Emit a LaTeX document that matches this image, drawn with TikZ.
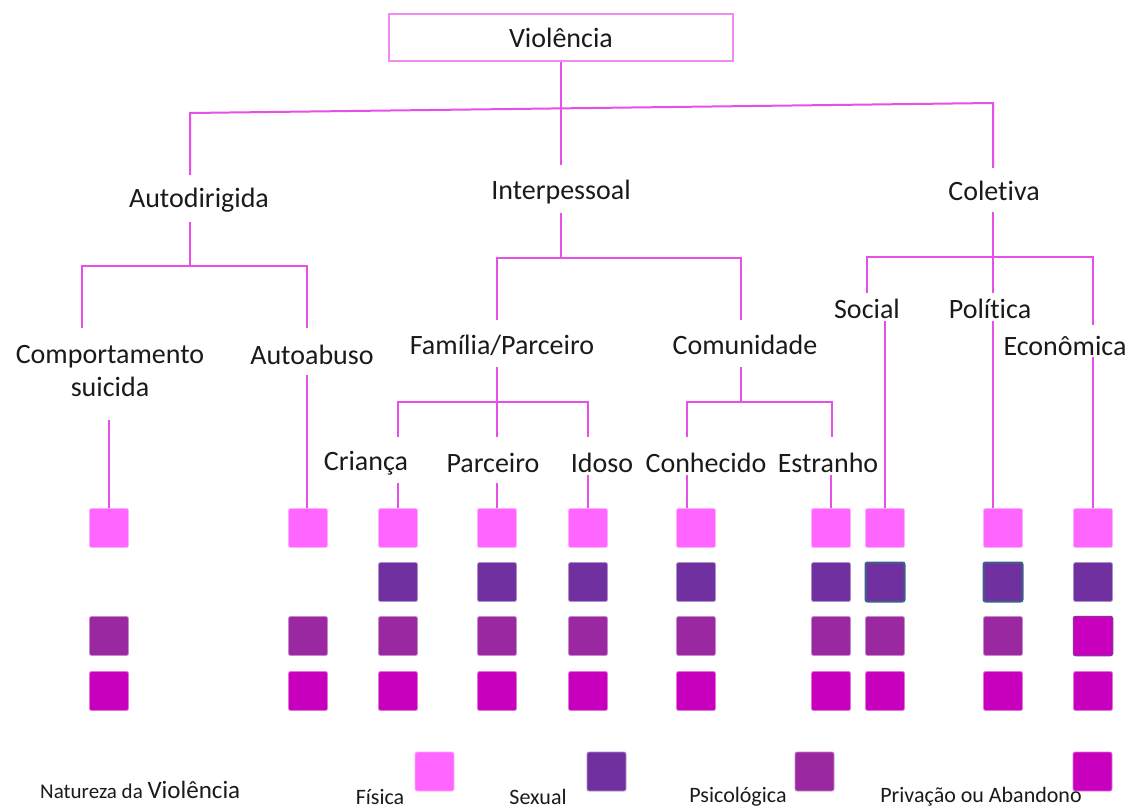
\documentclass[tikz,border=0pt]{standalone}
\usepackage{fontspec}
\setmainfont{Carlito}[Ligatures=NoCommon]
\usetikzlibrary{calc}
\definecolor{lnc}{HTML}{E650E6}
\definecolor{boxc}{HTML}{F08CF0}
\definecolor{fis}{HTML}{FF66FF}
\definecolor{sex}{HTML}{7030A0}
\definecolor{psi}{HTML}{9A28A0}
\definecolor{pri}{HTML}{C800BE}
\definecolor{edg}{HTML}{3E6088}
\definecolor{txt}{HTML}{1A1A1A}
\tikzset{
  lbl/.style={font=\fontsize{28}{33}\selectfont, text=txt, inner sep=0pt, align=center},
  leg/.style={font=\fontsize{22}{26}\selectfont, text=txt, inner sep=0pt},
  conn/.style={draw=lnc, line width=2pt},
  sq/.style={minimum size=39pt, inner sep=0pt, rounded corners=2pt, draw=#1!55!white, line width=0.8pt, fill=#1},
}
\begin{document}
\begin{tikzpicture}[x=1pt,y=-1pt]
\useasboundingbox (0,0) rectangle (1134,810);
% squares
\foreach \n/\x in {cs/109,ab/308,cr/398,pa/497,id/588,co/696,es/831,so/885,po/1003,ec/1093}{
  \node[sq=fis] (\n1) at (\x,528) {};
  \node[sq=pri] (\n4) at (\x,691) {};
}
\foreach \n/\x in {cr/398,pa/497,id/588,co/696,es/831,ec/1093}
  \node[sq=sex] (\n2) at (\x,582) {};
\node[sq=sex, draw=edg, line width=2pt] (so2) at (885,582) {};
\node[sq=sex, draw=edg, line width=2pt] (po2) at (1003,582) {};
\foreach \n/\x in {cs/109,ab/308,cr/398,pa/497,id/588,co/696,es/831,so/885,po/1003}
  \node[sq=psi] (\n3) at (\x,636) {};
\node[sq=pri, draw=psi, line width=1.5pt] (ec3) at (1093,636) {};

% text nodes
\node[lbl, draw=boxc, line width=1.5pt, minimum width=344pt, minimum height=47pt] (viol) at (561,37.5) {Violência};
\node[lbl] (autod) at (199,200) {Autodirigida};
\node[lbl] (inter) at (561,192) {Interpessoal};
\node[lbl] (colet) at (994,191) {Coletiva};
\node[lbl] (comp) at (110,371) {Comportamento\\suicida};
\node[lbl] (autoab) at (312,355) {Autoabuso};
\node[lbl] (fam) at (502,345) {Família/Parceiro};
\node[lbl] (comun) at (745,345) {Comunidade};
\node[lbl] (crian) at (366,463) {Criança};
\node[lbl] (parc) at (493,463) {Parceiro};
\node[lbl] (idoso) at (602,463) {Idoso};
\node[lbl] (conh) at (706,463) {Conhecido};
\node[lbl] (estr) at (828,463) {Estranho};
\node[lbl] (soc) at (867,309) {Social};
\node[lbl] (pol) at (990,309) {Política};
\node[lbl] (econ) at (1065,346) {Econômica};

% junction coordinates
\coordinate (hL) at (190,113);
\coordinate (hR) at (993,103);
\coordinate (aT) at (190,175);
\coordinate (cT) at (993,168);
\coordinate (iT) at (561,165);
\coordinate (aB) at (190,222);
\coordinate (aJ) at (190,266);
\coordinate (cmpT) at (82,328);
\coordinate (abT) at (307,328);
\coordinate (cmpB) at (109,420);
\coordinate (abB) at (307,375);
\coordinate (iB) at (561,213);
\coordinate (iJ) at (561,258);
\coordinate (famT) at (497,320);
\coordinate (comT) at (741,320);
\coordinate (famB) at (497,367);
\coordinate (famJ) at (497,402);
\coordinate (comB) at (741,367);
\coordinate (comJ) at (741,402);
\coordinate (crT) at (398,437);
\coordinate (paT) at (497,437);
\coordinate (idT) at (588,437);
\coordinate (coT) at (687,437);
\coordinate (esT) at (832,437);
\coordinate (crB) at (398,483);
\coordinate (paB) at (497,483);
\coordinate (idB) at (588,475);
\coordinate (coB) at (687,475);
\coordinate (esB) at (831,475);
\coordinate (cB) at (993,212);
\coordinate (cJ) at (993,257);
\coordinate (polT) at (993,293);
\coordinate (socT) at (867,293);
\coordinate (ecT) at (1093,325);
\coordinate (socB) at (885,321);
\coordinate (polB) at (993,321);
\coordinate (ecB) at (1093,357);

% connectors
\draw[conn] (viol.south) -- (iT);
\draw[conn] (aT) -- (hL) -- (hR) -- (cT);
\draw[conn] (aB) -- (aJ);
\draw[conn] (cmpT) |- (aJ) -| (abT);
\draw[conn] (cmpB) -- (cs1.north);
\draw[conn] (abB) -- (abB |- ab1.north);
\draw[conn] (iB) -- (iJ);
\draw[conn] (famT) |- (iJ) -| (comT);
\draw[conn] (famB) -- (paT);
\draw[conn] (crT) |- (famJ) -| (idT);
\draw[conn] (comB) -- (comJ);
\draw[conn] (coT) |- (comJ) -| (esT);
\draw[conn] (crB) -- (cr1.north);
\draw[conn] (paB) -- (pa1.north);
\draw[conn] (idB) -- (id1.north);
\draw[conn] (coB) -- (coB |- co1.north);
\draw[conn] (esB) -- (es1.north);
\draw[conn] (cB) -- (polT);
\draw[conn] (socT) |- (cJ) -| (ecT);
\draw[conn] (socB) -- (so1.north);
\draw[conn] (polB) -- (polB |- po1.north);
\draw[conn] (ecB) -- (ec1.north);

% legend
\node[sq=fis] (lfis) at (434.5,771.5) {};
\node[sq=sex] (lsex) at (606.5,771.5) {};
\node[sq=psi] (lpsi) at (814.5,771.5) {};
\node[sq=pri] (lpri) at (1092.5,771.5) {};
\node[leg] (tfis) at (380,797) {Física};
\node[leg] (tsex) at (538,797) {Sexual};
\node[leg] (tpsi) at (738,797) {Psicológica};
\node[leg] (tpri) at (981,797) {Privação ou Abandono};
\node[leg, anchor=base west, font=\fontsize{21}{25}\selectfont] (nat) at (40,798) {Natureza da {\fontsize{25}{29}\selectfont Violência}};
\end{tikzpicture}
\end{document}
